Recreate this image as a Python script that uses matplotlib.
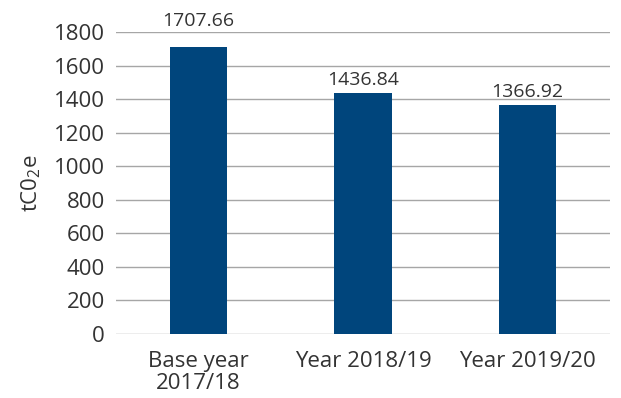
import matplotlib
matplotlib.use("Agg")
import matplotlib.pyplot as plt

categories = ["Base year\n2017/18", "Year 2018/19", "Year 2019/20"]
values = [1707.66, 1436.84, 1366.92]
labels = ["1707.66", "1436.84", "1366.92"]

plt.rcParams['font.family'] = ['Open Sans', 'DejaVu Sans']

fig = plt.figure(figsize=(6.21, 3.98), dpi=100)
ax = fig.add_axes([116 / 621, 1 - 334 / 398, (610 - 116) / 621, (334 - 32) / 398])

# label offsets above bar tops (points), as placed in the original
label_offsets = [19, 9, 9]

x = range(len(categories))
bars = ax.bar(x, values, width=0.35, color='#00457c', zorder=3)
for b, lab, off in zip(bars, labels, label_offsets):
    ax.annotate(lab, (b.get_x() + b.get_width() / 2, b.get_height()),
                xytext=(0, off), textcoords='offset points',
                ha='center', va='center', fontsize=14, color='#333333')

ax.set_xlim(-0.5, 2.5)
ax.set_ylim(0, 1800)
ax.set_yticks(range(0, 1801, 200))
ax.yaxis.grid(True, color='#a6a6a6', linewidth=1, zorder=0)
ax.set_xticks(list(x))
ax.set_xticklabels(categories, linespacing=1.1)
ax.tick_params(axis='both', length=0, labelsize=16, labelcolor='#333333')
ax.tick_params(axis='y', pad=8)
ax.tick_params(axis='x', pad=12)
for s in ax.spines.values():
    s.set_visible(False)
ax.set_ylabel(r'tC0$_\mathregular{2}$e', fontsize=16, color='#333333', labelpad=8)

fig.savefig("out.png", dpi=100)
